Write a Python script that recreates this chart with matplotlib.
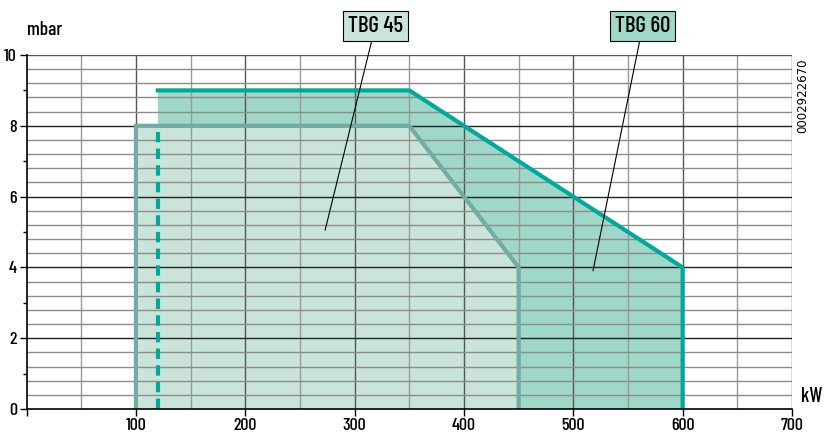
import matplotlib.pyplot as plt
import numpy as np

# burner working fields (kW, mbar)
tbg45_kw = [100, 100, 350, 450, 450]
tbg45_mbar = [0, 8, 8, 4, 0]
tbg60_kw = [120, 120, 350, 600, 600]
tbg60_mbar = [0, 9, 9, 4, 0]

fill45 = '#c9e5d9'
edge45 = '#74aba7'
fill60 = '#9fd7c8'
edge60 = '#00a99d'

plt.rcParams['font.family'] = ['Barlow Condensed', 'Archivo Narrow', 'DejaVu Sans']
plt.rcParams['font.weight'] = 500

fig = plt.figure(figsize=(8.28, 4.33), dpi=100)
ax = fig.add_axes([0.0321, 0.0554, 0.9244, 0.8176])

ax.set_xlim(0, 700)
ax.set_ylim(0, 10)

# grid
for x in np.arange(50, 700, 100):
    ax.axvline(x, color='#9a9a9a', lw=1.0, zorder=2)
for x in np.arange(100, 701, 100):
    ax.axvline(x, color='#555555', lw=1.0, zorder=2)
for y in np.arange(0.4, 10, 0.4):
    if abs(y / 2 - round(y / 2)) < 1e-6:
        ax.axhline(y, color='#222222', lw=1.0, zorder=2)
    else:
        ax.axhline(y, color='#8c8c8c', lw=1.0, zorder=2)
ax.axhline(10, color='#555555', lw=1.0, zorder=2)

# fields
ax.fill(tbg60_kw, tbg60_mbar, color=fill60, lw=0, zorder=1)
ax.fill(tbg45_kw, tbg45_mbar, color=fill45, lw=0, zorder=1)
ax.plot(tbg45_kw, tbg45_mbar, color=edge45, lw=3, zorder=3, solid_joinstyle='miter')
ax.plot(tbg60_kw[1:], tbg60_mbar[1:], color=edge60, lw=3, zorder=4, solid_joinstyle='miter')
ax.plot(tbg60_kw[:2], [tbg60_mbar[0], tbg45_mbar[1]], color=edge60, lw=3, zorder=4,
        linestyle=(0, (2.5, 1.5)))

# labels with leader lines
ax.annotate('TBG 45', xy=(273, 5.05), xytext=(319, 10.82), fontsize=16.5,
            ha='center', va='center', annotation_clip=False, zorder=5,
            bbox=dict(boxstyle='square,pad=0.22', fc=fill45, ec='black', lw=0.8),
            arrowprops=dict(arrowstyle='-', color='black', lw=0.8, shrinkA=0, shrinkB=0))
ax.annotate('TBG 60', xy=(518, 3.9), xytext=(563.5, 10.82), fontsize=16.5,
            ha='center', va='center', annotation_clip=False, zorder=5,
            bbox=dict(boxstyle='square,pad=0.22', fc=fill60, ec='black', lw=0.8),
            arrowprops=dict(arrowstyle='-', color='black', lw=0.8, shrinkA=0, shrinkB=0))

# axes styling
for side in ['top', 'right']:
    ax.spines[side].set_visible(False)
ax.spines['left'].set_linewidth(1.2)
ax.spines['bottom'].set_linewidth(1.2)
ax.spines['left'].set_zorder(6)
ax.spines['bottom'].set_zorder(6)

ax.set_xticks(np.arange(0, 701, 100))
ax.set_xticklabels([''] + [str(v) for v in range(100, 701, 100)])
ax.set_yticks(np.arange(0, 11, 2))
ax.set_yticks(np.arange(1, 10, 2), minor=True)
ax.tick_params(axis='both', which='major', labelsize=13, length=5, width=1.0)
ax.tick_params(axis='x', which='major', pad=1.5)
ax.tick_params(axis='y', which='major', pad=2)
ax.tick_params(axis='y', which='minor', length=3, width=1.0)

ax.text(0, 10.45, 'mbar', fontsize=14, ha='left', va='bottom')
ax.text(1.012, 0.035, 'kW', fontsize=14.5, ha='left', va='center', transform=ax.transAxes,
        clip_on=False)
fig.text(0.97, 0.78, '0002922670', rotation=90, fontsize=8.5, family='DejaVu Sans',
         fontweight='normal', ha='center', va='center')

fig.savefig('out.png', dpi=100)
